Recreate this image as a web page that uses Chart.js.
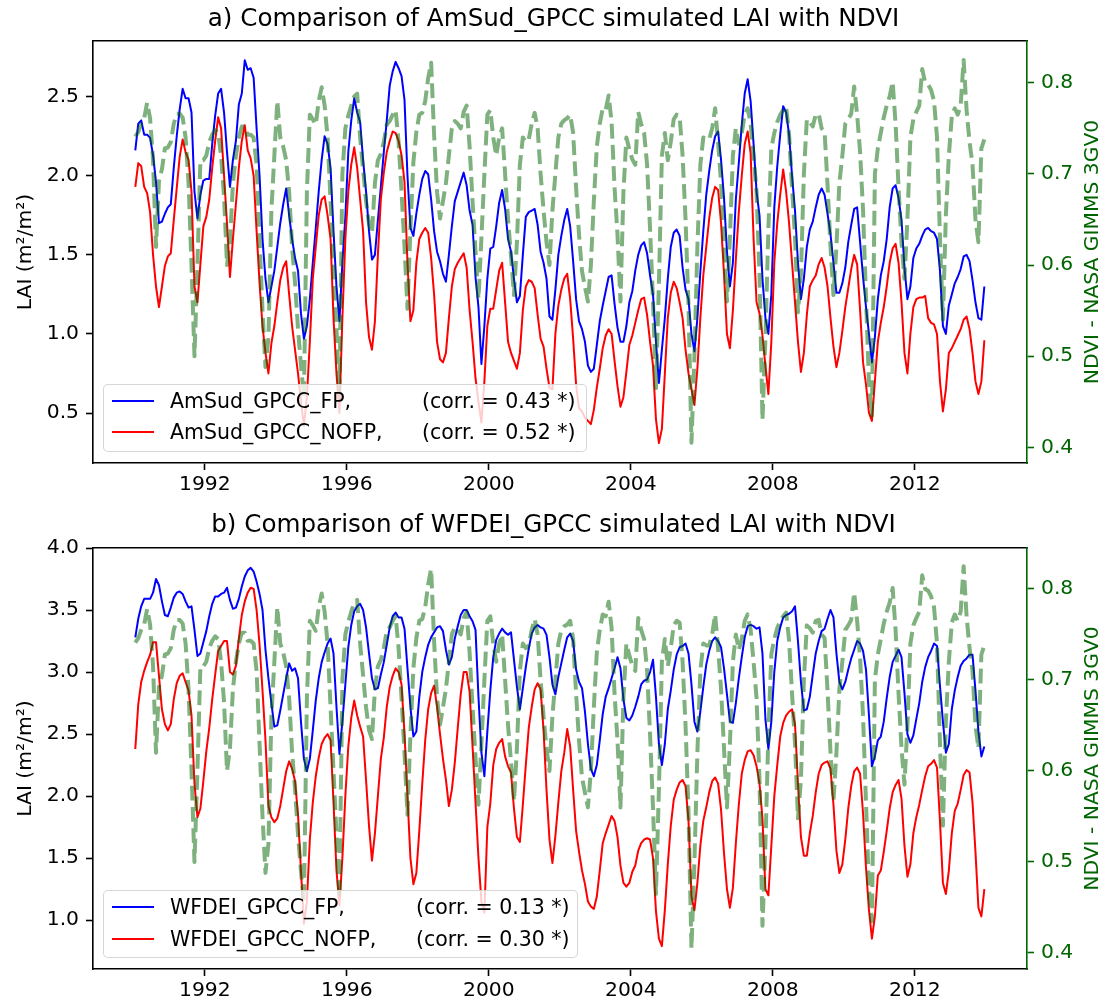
<!DOCTYPE html>
<html>
<head>
<meta charset="utf-8">
<title>Simulated LAI vs NDVI</title>
<script src="https://cdn.jsdelivr.net/npm/chart.js@4.4.1/dist/chart.umd.min.js"></script>
<style>
  html, body { margin: 0; padding: 0; background: #fff; }
  body { width: 1107px; height: 1004px; position: relative; overflow: hidden; font-family: "DejaVu Sans", sans-serif; }
  .panel { position: absolute; left: 0; width: 1107px; height: 502px; }
  .panel canvas { position: absolute; left: 0; top: 0; }
  .legend { position: absolute; box-sizing: border-box; background: rgba(255, 255, 255, 0.8); border: 1px solid rgba(204, 204, 204, 0.8); border-radius: 5px; font-size: 20.5px; color: #000; }
  .legend .row { position: absolute; left: 0; right: 0; height: 24px; line-height: 24px; white-space: nowrap; }
  .legend .swatch { position: absolute; left: 8px; top: 11px; width: 42px; height: 0; border-top: 2px solid; }
  .legend .name { position: absolute; left: 66px; }
  .legend .corr { position: absolute; }
</style>
</head>
<body>
<div class="panel" style="top:0">
  <canvas id="chartA" width="1107" height="502"></canvas>
  <div class="legend" id="legendA" style="left:103px; top:384px; width:484px; height:68px;"></div>
</div>
<div class="panel" style="top:502px">
  <canvas id="chartB" width="1107" height="502"></canvas>
  <div class="legend" id="legendB" style="left:103px; top:388px; width:475px; height:68px;"></div>
</div>

<script>
// monthly series, Jan 1990 .. Dec 2013 (one row per year)
const startYear = 1990;
const xTicks = [1992, 1996, 2000, 2004, 2008, 2012];
const laiTicksA = [0.5, 1.0, 1.5, 2.0, 2.5];
const laiTicksB = [1.0, 1.5, 2.0, 2.5, 3.0, 3.5, 4.0];
const ndviTicks = [0.4, 0.5, 0.6, 0.7, 0.8];

const labelsA = ["AmSud_GPCC_FP,", "AmSud_GPCC_NOFP,"];
const corrA = ["(corr. = 0.43 *)", "(corr. = 0.52 *)"];
const labelsB = ["WFDEI_GPCC_FP,", "WFDEI_GPCC_NOFP,"];
const corrB = ["(corr. = 0.13 *)", "(corr. = 0.30 *)"];

const amsudFP = [
  2.16, 2.33, 2.35, 2.26, 2.26, 2.24, 2.13, 1.96, 1.70, 1.71, 1.76, 1.80,
  1.82, 2.05, 2.25, 2.42, 2.55, 2.49, 2.49, 2.40, 1.90, 1.73, 1.88, 1.97,
  1.98, 1.98, 2.20, 2.38, 2.52, 2.55, 2.40, 2.15, 1.93, 2.10, 2.22, 2.45,
  2.52, 2.73, 2.67, 2.68, 2.62, 2.30, 2.00, 1.60, 1.35, 1.20, 1.30, 1.40,
  1.55, 1.70, 1.82, 1.92, 1.75, 1.60, 1.48, 1.40, 1.13, 0.97, 1.05, 1.22,
  1.45, 1.67, 1.90, 2.10, 2.25, 2.20, 2.05, 1.65, 1.30, 1.08, 1.45, 1.74,
  2.15, 2.35, 2.49, 2.40, 2.34, 2.10, 1.90, 1.65, 1.47, 1.50, 1.72, 1.93,
  2.15, 2.35, 2.57, 2.66, 2.72, 2.68, 2.63, 2.48, 2.00, 1.67, 1.62, 1.76,
  1.88, 1.98, 2.03, 2.01, 1.85, 1.65, 1.52, 1.46, 1.38, 1.33, 1.50, 1.68,
  1.84, 1.90, 1.96, 2.02, 1.94, 1.78, 1.69, 1.36, 1.17, 0.81, 1.05, 1.35,
  1.54, 1.55, 1.68, 1.83, 1.91, 1.79, 1.60, 1.52, 1.35, 1.20, 1.24, 1.50,
  1.74, 1.77, 1.78, 1.79, 1.69, 1.52, 1.45, 1.35, 1.11, 1.09, 1.28, 1.50,
  1.62, 1.72, 1.79, 1.68, 1.46, 1.22, 1.08, 1.03, 0.95, 0.80, 0.76, 0.78,
  0.93, 1.08, 1.18, 1.27, 1.36, 1.37, 1.19, 1.04, 0.95, 0.95, 1.05, 1.20,
  1.27, 1.40, 1.50, 1.56, 1.58, 1.51, 1.37, 1.25, 0.95, 0.69, 0.90, 1.10,
  1.35, 1.55, 1.64, 1.66, 1.62, 1.42, 1.28, 1.22, 1.00, 0.89, 1.10, 1.39,
  1.65, 1.88, 2.03, 2.16, 2.25, 2.28, 2.10, 1.86, 1.52, 1.30, 1.45, 1.85,
  2.08, 2.32, 2.52, 2.61, 2.47, 2.20, 1.90, 1.75, 1.35, 1.10, 1.00, 1.25,
  1.80, 2.06, 2.26, 2.44, 2.40, 2.26, 2.00, 1.78, 1.45, 1.22, 1.35, 1.55,
  1.66, 1.71, 1.80, 1.88, 1.92, 1.88, 1.76, 1.63, 1.45, 1.26, 1.26, 1.32,
  1.42, 1.58, 1.69, 1.79, 1.80, 1.58, 1.36, 1.17, 1.00, 0.82, 0.98, 1.22,
  1.37, 1.46, 1.60, 1.80, 1.92, 1.94, 1.86, 1.72, 1.42, 1.22, 1.30, 1.48,
  1.54, 1.57, 1.62, 1.66, 1.67, 1.65, 1.64, 1.60, 1.40, 1.05, 1.00, 1.18,
  1.25, 1.32, 1.36, 1.41, 1.49, 1.50, 1.46, 1.34, 1.20, 1.10, 1.09, 1.30,
];

const amsudNOFP = [
  1.93, 2.08, 2.06, 1.93, 1.89, 1.77, 1.50, 1.30, 1.17, 1.30, 1.43, 1.49,
  1.51, 1.72, 1.92, 2.12, 2.23, 2.15, 2.10, 1.90, 1.30, 1.20, 1.44, 1.68,
  1.74, 1.85, 2.05, 2.22, 2.37, 2.30, 2.00, 1.70, 1.36, 1.60, 1.82, 2.05,
  2.22, 2.32, 2.16, 2.11, 2.00, 1.65, 1.32, 1.05, 0.88, 0.75, 0.94, 1.05,
  1.20, 1.34, 1.42, 1.46, 1.25, 1.05, 0.90, 0.75, 0.57, 0.42, 0.60, 0.95,
  1.35, 1.55, 1.75, 1.85, 1.87, 1.75, 1.60, 1.10, 0.75, 0.50, 1.10, 1.60,
  1.90, 2.07, 2.18, 2.05, 1.85, 1.65, 1.20, 0.98, 0.90, 1.08, 1.50, 1.85,
  2.02, 2.15, 2.22, 2.28, 2.27, 2.22, 2.13, 1.96, 1.45, 1.08, 1.15, 1.45,
  1.60, 1.64, 1.67, 1.64, 1.48, 1.25, 0.95, 0.84, 0.82, 0.88, 1.10, 1.30,
  1.41, 1.45, 1.48, 1.51, 1.42, 1.15, 0.95, 0.72, 0.57, 0.44, 0.70, 1.05,
  1.16, 1.16, 1.28, 1.40, 1.45, 1.20, 0.95, 0.88, 0.83, 0.78, 0.88, 1.15,
  1.30, 1.34, 1.33, 1.29, 1.12, 0.97, 0.92, 0.78, 0.66, 0.65, 1.00, 1.18,
  1.28, 1.35, 1.38, 1.22, 0.97, 0.68, 0.53, 0.51, 0.47, 0.45, 0.43, 0.52,
  0.66, 0.78, 0.91, 0.99, 1.03, 1.00, 0.83, 0.67, 0.54, 0.60, 0.76, 0.93,
  0.99, 1.07, 1.15, 1.22, 1.23, 1.12, 0.95, 0.80, 0.46, 0.31, 0.40, 0.75,
  1.10, 1.26, 1.33, 1.29, 1.20, 1.10, 0.90, 0.75, 0.65, 0.55, 0.78, 1.10,
  1.37, 1.55, 1.73, 1.86, 1.93, 1.91, 1.70, 1.38, 1.00, 0.91, 1.15, 1.47,
  1.77, 2.00, 2.20, 2.28, 2.14, 1.60, 1.20, 1.13, 0.99, 0.80, 0.62, 0.95,
  1.45, 1.70, 1.88, 2.04, 1.90, 1.70, 1.45, 1.20, 0.95, 0.76, 0.88, 1.12,
  1.30, 1.34, 1.37, 1.44, 1.48, 1.42, 1.30, 1.10, 0.92, 0.79, 0.88, 1.02,
  1.17, 1.29, 1.41, 1.50, 1.44, 1.15, 0.82, 0.68, 0.50, 0.45, 0.70, 0.95,
  1.07, 1.17, 1.30, 1.45, 1.54, 1.57, 1.45, 1.20, 0.88, 0.75, 1.00, 1.17,
  1.22, 1.23, 1.23, 1.24, 1.10, 1.07, 1.06, 1.00, 0.70, 0.51, 0.65, 0.88,
  0.91, 0.95, 0.99, 1.03, 1.09, 1.11, 1.03, 0.88, 0.70, 0.62, 0.70, 0.96,
];

const wfdeiFP = [
  3.28, 3.43, 3.53, 3.59, 3.59, 3.59, 3.64, 3.75, 3.70, 3.57, 3.46, 3.45,
  3.52, 3.60, 3.64, 3.65, 3.63, 3.57, 3.52, 3.53, 3.34, 3.13, 3.15, 3.24,
  3.33, 3.45, 3.55, 3.61, 3.61, 3.63, 3.64, 3.68, 3.58, 3.51, 3.52, 3.59,
  3.69, 3.77, 3.82, 3.84, 3.81, 3.73, 3.63, 3.50, 3.18, 2.95, 2.75, 2.56,
  2.57, 2.69, 2.82, 2.95, 3.07, 3.01, 3.03, 2.95, 2.60, 2.30, 2.20, 2.30,
  2.53, 2.77, 2.95, 3.08, 3.16, 3.23, 3.27, 3.15, 2.72, 2.34, 2.60, 2.90,
  3.20, 3.38, 3.49, 3.53, 3.55, 3.50, 3.36, 3.15, 2.95, 2.86, 2.87, 2.98,
  3.08, 3.22, 3.36, 3.45, 3.48, 3.44, 3.44, 3.35, 3.03, 2.72, 2.48, 2.52,
  2.80, 3.00, 3.12, 3.22, 3.28, 3.32, 3.36, 3.37, 3.33, 3.18, 3.06, 3.12,
  3.27, 3.37, 3.46, 3.50, 3.50, 3.45, 3.41, 3.34, 2.80, 2.35, 2.16, 2.52,
  2.85, 3.12, 3.26, 3.31, 3.35, 3.32, 3.30, 3.32, 3.10, 2.88, 2.70, 2.87,
  3.04, 3.19, 3.31, 3.36, 3.38, 3.36, 3.35, 3.30, 3.12, 2.90, 2.82, 2.96,
  3.07, 3.18, 3.28, 3.31, 3.25, 3.02, 2.92, 2.87, 2.68, 2.42, 2.22, 2.16,
  2.25, 2.45, 2.66, 2.80, 2.87, 2.95, 3.03, 3.12, 3.03, 2.78, 2.63, 2.61,
  2.65, 2.72, 2.80, 2.90, 2.93, 2.94, 3.00, 3.10, 2.80, 2.42, 2.25, 2.42,
  2.70, 2.85, 3.02, 3.14, 3.20, 3.21, 3.23, 3.15, 2.90, 2.60, 2.52, 2.68,
  2.88, 3.06, 3.17, 3.25, 3.28, 3.25, 3.20, 3.03, 2.82, 2.60, 2.59, 2.75,
  2.95, 3.12, 3.28, 3.37, 3.38, 3.37, 3.35, 3.36, 3.15, 2.62, 2.38, 2.60,
  3.00, 3.25, 3.36, 3.44, 3.46, 3.47, 3.49, 3.53, 3.25, 2.92, 2.69, 2.70,
  2.80, 2.98, 3.15, 3.25, 3.33, 3.35, 3.43, 3.50, 3.44, 3.15, 2.92, 2.86,
  2.92, 3.02, 3.11, 3.18, 3.25, 3.23, 3.17, 3.02, 2.65, 2.24, 2.32, 2.45,
  2.48, 2.60, 2.79, 2.96, 3.08, 3.13, 3.18, 3.12, 2.83, 2.50, 2.43, 2.49,
  2.62, 2.75, 2.92, 3.04, 3.12, 3.17, 3.23, 3.21, 2.89, 2.60, 2.35, 2.42,
  2.70, 2.85, 2.96, 3.05, 3.09, 3.11, 3.14, 3.14, 2.85, 2.52, 2.32, 2.40,
];

const wfdeiNOFP = [
  2.38, 2.74, 2.92, 3.01, 3.08, 3.14, 3.24, 3.24, 2.97, 2.70, 2.58, 2.53,
  2.58, 2.78, 2.91, 2.97, 2.99, 2.92, 2.85, 2.65, 2.10, 1.83, 1.90, 2.12,
  2.36, 2.55, 2.78, 2.98, 3.17, 3.21, 3.25, 3.25, 3.00, 2.98, 3.05, 3.27,
  3.46, 3.57, 3.64, 3.68, 3.67, 3.50, 3.22, 2.85, 2.45, 1.92, 1.83, 1.79,
  1.82, 1.92, 2.06, 2.20, 2.28, 2.22, 2.12, 1.85, 1.40, 0.97, 1.15, 1.65,
  1.95, 2.16, 2.31, 2.42, 2.47, 2.50, 2.45, 1.95, 1.40, 1.12, 1.50, 2.00,
  2.40, 2.63, 2.77, 2.65, 2.56, 2.48, 2.13, 1.76, 1.48, 1.70, 2.00, 2.30,
  2.47, 2.72, 2.88, 2.97, 3.03, 3.00, 2.90, 2.50, 2.00, 1.50, 1.29, 1.38,
  1.72, 2.10, 2.45, 2.70, 2.83, 2.89, 2.72, 2.50, 2.30, 2.13, 1.92, 2.05,
  2.27, 2.55, 2.82, 3.00, 3.00, 2.84, 2.40, 1.95, 1.50, 1.15, 1.06, 1.75,
  1.94, 2.25, 2.38, 2.43, 2.46, 2.32, 2.24, 2.19, 1.90, 1.67, 1.63, 1.93,
  2.25, 2.55, 2.72, 2.86, 2.91, 2.86, 2.53, 2.05, 1.65, 1.46, 1.68, 1.95,
  2.20, 2.35, 2.54, 2.40, 2.05, 1.72, 1.55, 1.40, 1.29, 1.15, 1.11, 1.09,
  1.19, 1.40, 1.62, 1.70, 1.77, 1.84, 1.80, 1.67, 1.44, 1.30, 1.27, 1.30,
  1.39, 1.44, 1.56, 1.62, 1.65, 1.66, 1.65, 1.50, 1.07, 0.85, 0.79, 1.08,
  1.45, 1.76, 1.97, 2.05, 2.11, 2.13, 2.08, 1.80, 1.19, 1.08, 1.30, 1.60,
  1.80, 1.91, 2.03, 2.12, 2.15, 2.10, 1.89, 1.54, 1.25, 1.10, 1.26, 1.62,
  1.93, 2.18, 2.29, 2.36, 2.37, 2.33, 2.24, 2.10, 1.82, 1.25, 1.20, 1.60,
  2.00, 2.25, 2.48, 2.59, 2.65, 2.68, 2.70, 2.58, 2.10, 1.67, 1.52, 1.52,
  1.70, 1.84, 2.03, 2.18, 2.25, 2.27, 2.28, 2.22, 1.93, 1.56, 1.38, 1.45,
  1.65, 1.90, 2.08, 2.20, 2.23, 2.18, 1.86, 1.42, 1.08, 0.85, 1.03, 1.36,
  1.40, 1.55, 1.72, 1.90, 2.03, 2.09, 2.13, 1.98, 1.60, 1.35, 1.45, 1.70,
  1.83, 1.93, 2.05, 2.16, 2.24, 2.26, 2.29, 2.23, 1.80, 1.30, 1.21, 1.40,
  1.70, 1.88, 1.94, 2.05, 2.17, 2.21, 2.19, 1.95, 1.55, 1.10, 1.03, 1.25,
];

// NDVI - NASA GIMMS 3GV0 (same series in both panels)
const ndvi = [
  0.741, 0.746, 0.755, 0.761, 0.778, 0.761, 0.715, 0.620, 0.692, 0.705, 0.728, 0.729,
  0.735, 0.755, 0.766, 0.766, 0.762, 0.740, 0.690, 0.600, 0.500, 0.600, 0.715, 0.715,
  0.720, 0.735, 0.743, 0.748, 0.745, 0.720, 0.675, 0.600, 0.625, 0.690, 0.720, 0.740,
  0.752, 0.752, 0.743, 0.743, 0.740, 0.710, 0.630, 0.550, 0.488, 0.520, 0.660, 0.720,
  0.780, 0.740, 0.730, 0.715, 0.680, 0.620, 0.580, 0.530, 0.490, 0.455, 0.680, 0.765,
  0.760, 0.754, 0.780, 0.795, 0.775, 0.740, 0.670, 0.600, 0.530, 0.460, 0.700, 0.750,
  0.764, 0.775, 0.785, 0.788, 0.740, 0.705, 0.670, 0.645, 0.635, 0.690, 0.715, 0.722,
  0.735, 0.754, 0.758, 0.765, 0.770, 0.735, 0.680, 0.620, 0.552, 0.640, 0.713, 0.746,
  0.765, 0.767, 0.780, 0.805, 0.822, 0.743, 0.680, 0.651, 0.670, 0.690, 0.720, 0.750,
  0.758, 0.755, 0.750, 0.768, 0.775, 0.730, 0.670, 0.615, 0.563, 0.630, 0.700, 0.765,
  0.770, 0.740, 0.720, 0.740, 0.750, 0.700, 0.650, 0.610, 0.567, 0.625, 0.710, 0.740,
  0.735, 0.738, 0.755, 0.767, 0.750, 0.700, 0.660, 0.625, 0.600, 0.660, 0.700, 0.740,
  0.755, 0.759, 0.761, 0.765, 0.745, 0.685, 0.633, 0.593, 0.576, 0.560, 0.600, 0.670,
  0.730, 0.755, 0.772, 0.770, 0.786, 0.757, 0.685, 0.633, 0.560, 0.680, 0.740, 0.727,
  0.716, 0.710, 0.768, 0.755, 0.745, 0.710, 0.640, 0.560, 0.465, 0.580, 0.720, 0.745,
  0.715, 0.735, 0.760, 0.765, 0.763, 0.720, 0.650, 0.555, 0.405, 0.500, 0.620, 0.710,
  0.740, 0.738, 0.738, 0.750, 0.772, 0.735, 0.690, 0.625, 0.560, 0.630, 0.720, 0.750,
  0.733, 0.745, 0.765, 0.772, 0.755, 0.720, 0.680, 0.590, 0.430, 0.520, 0.640, 0.728,
  0.745, 0.757, 0.765, 0.770, 0.774, 0.743, 0.685, 0.630, 0.548, 0.590, 0.700, 0.760,
  0.757, 0.752, 0.765, 0.766, 0.750, 0.746, 0.688, 0.620, 0.567, 0.620, 0.690, 0.720,
  0.755, 0.760, 0.766, 0.796, 0.765, 0.724, 0.660, 0.565, 0.470, 0.435, 0.700, 0.728,
  0.745, 0.762, 0.775, 0.785, 0.801, 0.755, 0.685, 0.625, 0.585, 0.650, 0.740, 0.760,
  0.768, 0.775, 0.815, 0.800, 0.798, 0.792, 0.780, 0.740, 0.630, 0.540, 0.655, 0.720,
  0.763, 0.772, 0.765, 0.775, 0.825, 0.770, 0.735, 0.710, 0.650, 0.625, 0.728, 0.738,
];

const DARK_GREEN = "#006400";
const FONT = '"DejaVu Sans", sans-serif';
const TICK_SIZE = 20.3;
Chart.defaults.font.family = FONT;

// month i sits in the middle of its month
function monthPoints(values) {
  return values.map((v, i) => ({ x: startYear + (i + 0.5) / 12, y: v }));
}

function fixTicks(list) {
  return (scale) => {
    scale.ticks = list.map((v) => ({ value: v }));
  };
}

// the twin axis label reads bottom-to-top, which Chart.js does not do on the right side
const rightTitle = {
  id: "rightTitle",
  afterDraw(chart) {
    const s = chart.scales.y2;
    const t = s.options.title;
    const c = chart.ctx;
    c.save();
    c.translate(s.right - 14, (s.top + s.bottom) / 2);
    c.rotate(-Math.PI / 2);
    c.font = `${TICK_SIZE}px ${FONT}`;
    c.fillStyle = t.color;
    c.textAlign = "center";
    c.textBaseline = "middle";
    c.fillText(t.text, 0, 0);
    c.restore();
  },
};

function renderPanel(canvasId, cfg) {
  const ctx = document.getElementById(canvasId).getContext("2d");
  const tickGrid = (color) => ({
    display: true,
    drawOnChartArea: false,
    drawTicks: true,
    tickLength: 7,
    tickWidth: 1.6,
    tickColor: color,
  });

  return new Chart(ctx, {
    type: "line",
    data: {
      datasets: [
        {
          label: cfg.labels[0],
          data: monthPoints(cfg.fp),
          borderColor: "#0000ff",
          borderWidth: 2,
          xAxisID: "x",
          yAxisID: "y",
          order: 2,
        },
        {
          label: cfg.labels[1],
          data: monthPoints(cfg.nofp),
          borderColor: "#ff0000",
          borderWidth: 2,
          xAxisID: "x",
          yAxisID: "y",
          order: 1,
        },
        {
          label: "NDVI",
          data: monthPoints(ndvi),
          borderColor: "rgba(0, 100, 0, 0.5)",
          borderWidth: 4,
          borderDash: [14.8, 6.4],
          xAxisID: "x",
          yAxisID: "y2",
          order: 0,
        },
      ],
    },
    options: {
      responsive: false,
      animation: false,
      devicePixelRatio: 1,
      layout: { padding: 0 },
      elements: {
        point: { radius: 0, hoverRadius: 0 },
        line: { tension: 0, fill: false, borderJoinStyle: "round" },
      },
      plugins: {
        legend: { display: false },
        tooltip: { enabled: false },
        title: {
          display: true,
          text: cfg.title,
          color: "#000",
          font: { size: 24.6, weight: "normal", lineHeight: 1.2 },
          padding: cfg.titlePad,
        },
      },
      scales: {
        x: {
          type: "linear",
          position: "bottom",
          min: 1988.85,
          max: 2015.16,
          afterBuildTicks: fixTicks(xTicks),
          afterFit: (s) => { s.height = cfg.xHeight; },
          grid: tickGrid("#000"),
          border: { color: "#000", width: 1.6 },
          ticks: {
            color: "#000",
            font: { size: TICK_SIZE },
            padding: 3,
            maxRotation: 0,
            autoSkip: false,
            callback: (v) => String(v),
          },
        },
        top: {
          type: "linear",
          position: "top",
          min: 1988.85,
          max: 2015.16,
          afterFit: (s) => { s.height = 0; },
          grid: { display: false, drawTicks: false },
          border: { color: "#000", width: 1.6 },
          ticks: { display: false },
        },
        y: {
          type: "linear",
          position: "left",
          min: cfg.yMin,
          max: cfg.yMax,
          afterBuildTicks: fixTicks(cfg.yTicks),
          afterFit: (s) => { s.width = 93; },
          grid: tickGrid("#000"),
          border: { color: "#000", width: 1.6 },
          ticks: {
            color: "#000",
            font: { size: TICK_SIZE },
            padding: 7,
            callback: (v) => v.toFixed(1),
          },
          title: {
            display: true,
            text: "LAI (m²/m²)",
            color: "#000",
            font: { size: TICK_SIZE },
            padding: { top: 14, bottom: 0 },
          },
        },
        y2: {
          type: "linear",
          position: "right",
          min: cfg.nMin,
          max: cfg.nMax,
          afterBuildTicks: fixTicks(ndviTicks),
          afterFit: (s) => { s.width = 80; },
          grid: tickGrid(DARK_GREEN),
          border: { color: DARK_GREEN, width: 1.6 },
          ticks: {
            color: DARK_GREEN,
            font: { size: TICK_SIZE },
            padding: 7,
            callback: (v) => v.toFixed(1),
          },
          // drawn by the rightTitle plugin
          title: {
            display: false,
            text: "NDVI - NASA GIMMS 3GV0",
            color: DARK_GREEN,
          },
        },
      },
    },
    plugins: [rightTitle],
  });
}

// legend box sits inside the plot, built from the chart's own datasets
function buildLegend(chart, boxId, corrs, rowTops, corrLeft) {
  const box = document.getElementById(boxId);
  chart.data.datasets.slice(0, 2).forEach((ds, i) => {
    const row = document.createElement("div");
    row.className = "row";
    row.style.top = rowTops[i] + "px";

    const swatch = document.createElement("span");
    swatch.className = "swatch";
    swatch.style.borderTopColor = ds.borderColor;

    const name = document.createElement("span");
    name.className = "name";
    name.textContent = ds.label;

    const corr = document.createElement("span");
    corr.className = "corr";
    corr.style.left = corrLeft + "px";
    corr.textContent = corrs[i];

    row.append(swatch, name, corr);
    box.appendChild(row);
  });
}

const chartA = renderPanel("chartA", {
  title: "a) Comparison of AmSud_GPCC simulated LAI with NDVI",
  titlePad: { top: 4.4, bottom: 7.1 },
  xHeight: 39,
  labels: labelsA,
  fp: amsudFP,
  nofp: amsudNOFP,
  yMin: 0.184,
  yMax: 2.852,
  yTicks: laiTicksA,
  nMin: 0.3828,
  nMax: 0.8458,
});

const chartB = renderPanel("chartB", {
  title: "b) Comparison of WFDEI_GPCC simulated LAI with NDVI",
  titlePad: { top: 9.2, bottom: 7.3 },
  xHeight: 35,
  labels: labelsB,
  fp: wfdeiFP,
  nofp: wfdeiNOFP,
  yMin: 0.606,
  yMax: 4.0,
  yTicks: laiTicksB,
  nMin: 0.3824,
  nMax: 0.845,
});

buildLegend(chartA, "legendA", corrA, [4, 35], 318);
buildLegend(chartB, "legendB", corrB, [4, 36], 312);
</script>
</body>
</html>
